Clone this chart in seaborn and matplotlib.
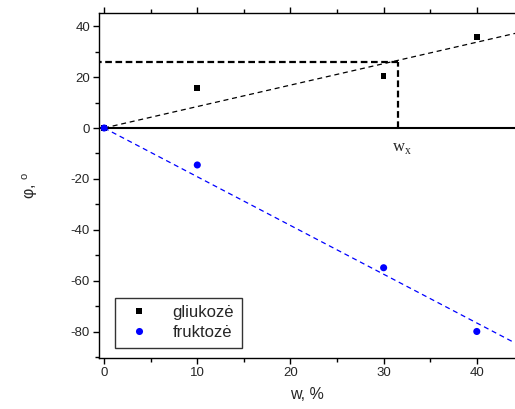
import numpy as np
import pandas as pd
import matplotlib
matplotlib.use("Agg")
import matplotlib.pyplot as plt
import seaborn as sns
from matplotlib.ticker import MultipleLocator

# data
gl_w = [0, 10, 30, 40]
gl_phi = [0, 15.6, 20.4, 35.6]
fr_w = [0, 10, 30, 40]
fr_phi = [0, -14.5, -54.8, -79.8]
fit_w = [0, 44.1]
gl_fit = [0, 37.1]
fr_fit = [0, -84.3]
wx_value = 31.5
phi_x = 25.8
series_names = ["gliukozė", "fruktozė"]

sns.set_style("ticks")
plt.rcParams['font.family'] = ['Liberation Sans', 'DejaVu Sans']
plt.rcParams['axes.unicode_minus'] = False

fig = plt.figure(figsize=(5.15, 4.09), dpi=100)
ax = fig.add_axes([99/515, 1 - 358/409, 1 - 99/515, (358 - 13)/409])

df = pd.DataFrame({
    "w": gl_w + fr_w,
    "phi": gl_phi + fr_phi,
    "series": [series_names[0]] * len(gl_w) + [series_names[1]] * len(fr_w),
})

# fit lines
ax.plot(fit_w, gl_fit, color="black", lw=0.9, ls=(0, (4, 3)), zorder=2)
ax.plot(fit_w, fr_fit, color="#0000ff", lw=0.9, ls=(0, (4, 3)), zorder=2)
# zero line
ax.axhline(0, color="black", lw=1.5, zorder=2)
# reading lines for w_x
ax.plot([-1, wx_value], [phi_x, phi_x], color="black", lw=1.6, ls=(0, (3, 1.6)), zorder=2)
ax.plot([wx_value, wx_value], [0, phi_x], color="black", lw=1.6, ls=(0, (3, 1.6)), zorder=2)

sns.scatterplot(data=df, x="w", y="phi", hue="series", style="series",
                palette={series_names[0]: "black", series_names[1]: "#0000ff"},
                markers={series_names[0]: "s", series_names[1]: "o"},
                size="series", sizes={series_names[0]: 17, series_names[1]: 26},
                linewidth=0, ax=ax, zorder=3)

ax.text(wx_value - 0.6, -8, r"w$_\mathregular{x}$", family="Liberation Serif",
        fontsize=12, ha="left", va="center")

ax.set_xlim(-0.55, 44.1)
ax.set_ylim(-90.2, 45.1)
ax.xaxis.set_major_locator(MultipleLocator(10))
ax.xaxis.set_minor_locator(MultipleLocator(5))
ax.yaxis.set_major_locator(MultipleLocator(20))
ax.yaxis.set_minor_locator(MultipleLocator(10))
ax.tick_params(which="major", length=4.5, width=1, direction="out", labelsize=9.5, color="black", pad=2)
ax.tick_params(which="minor", length=3, width=1, direction="out", color="black")
ax.tick_params(axis="x", which="both", top=True)
ax.tick_params(axis="x", which="both", labeltop=False)
for sp in ["left", "bottom", "top"]:
    ax.spines[sp].set_color("black")
    ax.spines[sp].set_linewidth(1.0)
ax.spines["right"].set_visible(False)

ax.set_xlabel("w, %", fontsize=11.5, labelpad=6)
ax.set_ylabel(r"φ, $^\mathregular{o}$", fontsize=11.5, labelpad=22)

leg = ax.legend(loc="lower left", bbox_to_anchor=(0.039, 0.03), frameon=True,
                fancybox=False, edgecolor="black", fontsize=12,
                handletextpad=1.0, borderpad=0.45, labelspacing=0.3,
                handlelength=2.0, borderaxespad=0)
leg.get_frame().set_linewidth(1.0)

fig.savefig("out.png", dpi=100)
